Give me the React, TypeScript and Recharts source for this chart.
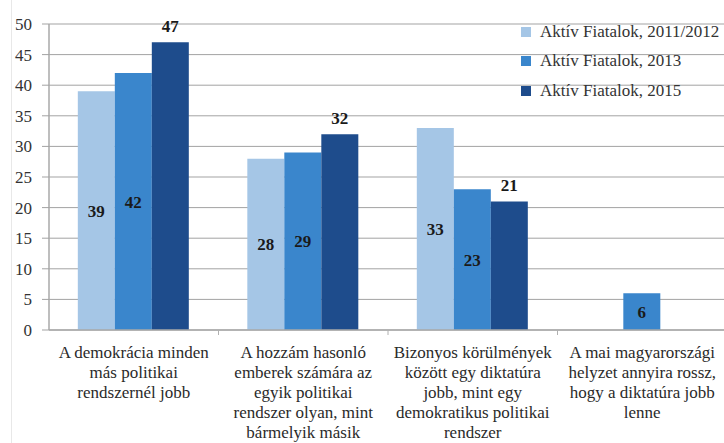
import React from 'react';
import { Bar, BarChart, CartesianGrid, LabelList, Legend, XAxis, YAxis } from 'recharts';

const categories = [
  'A demokrácia minden\nmás politikai\nrendszernél jobb',
  'A hozzám hasonló\nemberek számára az\negyik politikai\nrendszer olyan, mint\nbármelyik másik',
  'Bizonyos körülmények\nközött egy diktatúra\njobb, mint egy\ndemokratikus politikai\nrendszer',
  'A mai magyarországi\nhelyzet annyira rossz,\nhogy a diktatúra jobb\nlenne',
];
const seriesNames = ['Aktív Fiatalok, 2011/2012', 'Aktív Fiatalok, 2013', 'Aktív Fiatalok, 2015'];
const values2011 = [39, 28, 33, null];
const values2013 = [42, 29, 23, 6];
const values2015 = [47, 32, 21, null];
const yTicks = [0, 5, 10, 15, 20, 25, 30, 35, 40, 45, 50];

const COLORS = ['#a5c6e6', '#3a86cc', '#1e4c8c'];
const FONT = 'Liberation Serif';

const data = categories.map((c, i) => ({
  name: c,
  s1: values2011[i],
  s2: values2013[i],
  s3: values2015[i],
}));

function CategoryTick(props: any) {
  const { x, y, payload, index } = props;
  const lines = String(payload.value).split('\n');
  const half = payload.offset || 0;
  return (
    <g>
      {index < categories.length - 1 && (
        <line x1={x + half} x2={x + half} y1={y - 8} y2={y - 3} stroke="#b0b0b0" strokeWidth={1} />
      )}
      <text x={x} y={y + 20} textAnchor="middle" style={{ fontFamily: FONT, fontSize: 17 }} fill="#2a2a2a">
        {lines.map((l, i) => (
          <tspan key={i} x={x} dy={i === 0 ? 0 : 20}>
            {l}
          </tspan>
        ))}
      </text>
    </g>
  );
}

function LegendBox() {
  return (
    <div style={{ fontFamily: FONT, fontSize: 17, color: '#333' }}>
      {seriesNames.map((n, i) => (
        <div key={n} style={{ display: 'flex', alignItems: 'center', height: 29.5, whiteSpace: 'nowrap' }}>
          <span style={{ width: 10, height: 10, background: COLORS[i], marginRight: 9, display: 'inline-block' }} />
          {n}
        </div>
      ))}
    </div>
  );
}

const labelStyle = { fontFamily: FONT, fontSize: 17, fontWeight: 700, fill: '#1a1a1a' };

export default function App() {
  return (
    <div style={{ position: 'absolute', left: 0, top: 0, width: 724, height: 443, overflow: 'hidden', background: '#fff' }}>
      <div style={{ position: 'absolute', left: 11, top: 0, bottom: 0, width: 1, background: '#e8e8e8' }} />
      <BarChart
        width={740}
        height={443}
        data={data}
        margin={{ top: 24, right: 13, left: 0, bottom: 0 }}
        barGap={0}
        barCategoryGap="17%"
      >
        <CartesianGrid vertical={false} stroke="#a3a3a3" strokeWidth={1} />
        <XAxis
          dataKey="name"
          height={113}
          interval={0}
          axisLine={{ stroke: '#a8a8a8', strokeWidth: 1.5 }}
          tickLine={false}
          tick={<CategoryTick />}
        />
        <YAxis
          width={49}
          domain={[0, 50]}
          ticks={yTicks}
          interval={0}
          tickSize={7}
          tickMargin={10}
          axisLine={{ stroke: '#a8a8a8', strokeWidth: 1.5 }}
          tickLine={{ stroke: '#a3a3a3' }}
          tick={{ style: { fontFamily: FONT, fontSize: 17 }, fill: '#333' }}
        />
        <Legend
          layout="horizontal"
          align="center"
          verticalAlign="middle"
          content={<LegendBox />}
          wrapperStyle={{ left: 521, top: 17, width: 220, height: 90 }}
        />
        <Bar dataKey="s1" name={seriesNames[0]} fill={COLORS[0]} isAnimationActive={false}>
          <LabelList dataKey="s1" position="center" style={labelStyle} />
        </Bar>
        <Bar dataKey="s2" name={seriesNames[1]} fill={COLORS[1]} isAnimationActive={false}>
          <LabelList dataKey="s2" position="center" style={labelStyle} />
        </Bar>
        <Bar dataKey="s3" name={seriesNames[2]} fill={COLORS[2]} isAnimationActive={false}>
          <LabelList dataKey="s3" position="top" offset={10} style={labelStyle} />
        </Bar>
      </BarChart>
    </div>
  );
}
